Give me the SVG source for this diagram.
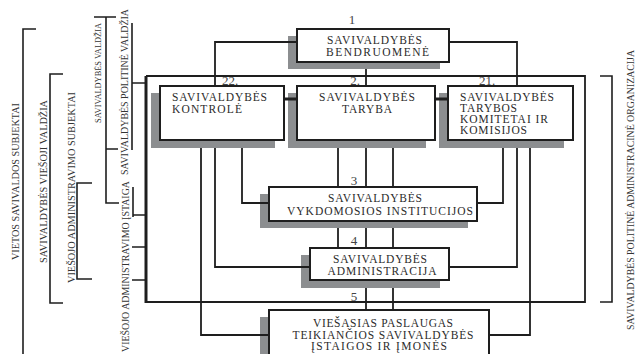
<svg xmlns="http://www.w3.org/2000/svg" width="635" height="354" viewBox="0 0 635 354">
<style>
.bg{fill:#ffffff}
.sh{fill:#8c8e90}
.box{fill:#ffffff;stroke:#1e1e1e;stroke-width:2}
.ln{fill:none;stroke:#1e1e1e;stroke-width:1.8}
.thk{fill:none;stroke:#1e1e1e;stroke-width:3}
.br{fill:none;stroke:#1e1e1e;stroke-width:1.6}
.t{font-family:"Liberation Serif","Times New Roman",serif;font-size:11.5px;fill:#2b2b2b}
.n{font-family:"Liberation Serif","Times New Roman",serif;font-size:13px;fill:#444444;text-anchor:middle}
.v{font-family:"Liberation Serif","Times New Roman",serif;font-size:10px;fill:#333333;text-anchor:middle}
.m{text-anchor:middle}
</style>
<rect class="bg" x="0" y="0" width="635" height="354"/>

<g id="shadows">
<rect class="sh" x="288" y="36" width="152" height="33"/>
<rect class="sh" x="151" y="93" width="124" height="55"/>
<rect class="sh" x="288" y="93" width="138" height="55"/>
<rect class="sh" x="439" y="93" width="125" height="55"/>
<rect class="sh" x="260" y="194" width="208" height="34"/>
<rect class="sh" x="301" y="255" width="139" height="33"/>
<rect class="sh" x="260" y="317" width="220" height="60"/>
</g>

<g id="connectors">
<path class="ln" d="M215,86 V42 H297"/>
<path class="ln" d="M449,42 H517 V86"/>
<path class="ln" d="M366,69 V86"/>
<path class="thk" d="M284,99 H297"/>
<path class="thk" d="M435,99 H448"/>
<path class="ln" d="M201,148 V335 H269"/>
<path class="ln" d="M215,148 V267 H310"/>
<path class="ln" d="M242,148 V203 H269"/>
<path class="ln" d="M338,148 V187"/>
<path class="ln" d="M366,148 V187"/>
<path class="ln" d="M393,148 V187"/>
<path class="ln" d="M338,228 V248"/>
<path class="ln" d="M366,228 V248"/>
<path class="ln" d="M393,228 V248"/>
<path class="ln" d="M366,288 V310"/>
<path class="ln" d="M393,288 V310"/>
<path class="ln" d="M503,148 V203 H477"/>
<path class="ln" d="M517,148 V267 H449"/>
<path class="ln" d="M530,148 V335 H489"/>
<path class="ln" d="M146,76 H585 V302 H146"/>
<path class="thk" d="M146,76 V303"/>
<path class="br" d="M36,29 H23 V360"/>
<path class="br" d="M63,74 H50 V303 H63"/>
<path class="br" d="M92,183 H77 V279 H92"/>
<path class="br" d="M94,17 H116 M106,17 V203 H119 M106,149 H118"/>
<path class="br" d="M132,23 V150 M132,83 H146"/>
<path class="br" d="M133,187 V217 M133,215 H146"/>
<path class="br" d="M132,247 H146 M132,280 H146"/>
<path class="br" d="M600,76 H612 V302 H600"/>
</g>

<g id="n1">
<rect class="box" x="297" y="29" width="152" height="33"/>
<text class="t m" x="374.5" y="43.5" textLength="95" lengthAdjust="spacing">SAVIVALDYBĖS</text>
<text class="t m" x="377.5" y="55.5" textLength="103" lengthAdjust="spacing">BENDRUOMENĖ</text>
<text class="n" x="352" y="24">1</text>
</g>

<g id="n22">
<rect class="box" x="160" y="86" width="124" height="54"/>
<text class="t" x="172" y="100.5" textLength="95" lengthAdjust="spacing">SAVIVALDYBĖS</text>
<text class="t" x="172" y="112.5" textLength="70" lengthAdjust="spacing">KONTROLĖ</text>
<text class="n" x="230" y="85">22.</text>
</g>

<g id="n2">
<rect class="box" x="297" y="86" width="138" height="54"/>
<text class="t m" x="367" y="100.5" textLength="96" lengthAdjust="spacing">SAVIVALDYBĖS</text>
<text class="t m" x="367" y="112.5" textLength="50" lengthAdjust="spacing">TARYBA</text>
<text class="n" x="355" y="85">2.</text>
</g>

<g id="n21">
<rect class="box" x="448" y="86" width="125" height="54"/>
<text class="t" x="460" y="100.5" textLength="94" lengthAdjust="spacing">SAVIVALDYBĖS</text>
<text class="t" x="460" y="111.5" textLength="57" lengthAdjust="spacing">TARYBOS</text>
<text class="t" x="460" y="122.5" textLength="88" lengthAdjust="spacing">KOMITETAI IR</text>
<text class="t" x="460" y="133.5" textLength="67" lengthAdjust="spacing">KOMISIJOS</text>
<text class="n" x="487" y="85">21.</text>
</g>

<g id="n3">
<rect class="box" x="269" y="187" width="208" height="34"/>
<text class="t m" x="375" y="201.5" textLength="94" lengthAdjust="spacing">SAVIVALDYBĖS</text>
<text class="t m" x="380" y="214.5" textLength="186" lengthAdjust="spacing">VYKDOMOSIOS INSTITUCIJOS</text>
<text class="n" x="354" y="185">3</text>
</g>

<g id="n4">
<rect class="box" x="310" y="248" width="139" height="32"/>
<text class="t m" x="380" y="262.5" textLength="94" lengthAdjust="spacing">SAVIVALDYBĖS</text>
<text class="t m" x="382" y="274.5" textLength="109" lengthAdjust="spacing">ADMINISTRACIJA</text>
<text class="n" x="354" y="245">4</text>
</g>

<g id="n5">
<rect class="box" x="269" y="310" width="220" height="60"/>
<text class="t m" x="383" y="326.5" textLength="140" lengthAdjust="spacing">VIEŠASIAS PASLAUGAS</text>
<text class="t m" x="383" y="338.5" textLength="181" lengthAdjust="spacing">TEIKIANČIOS SAVIVALDYBĖS</text>
<text class="t m" x="379" y="349.5" textLength="136" lengthAdjust="spacing">ĮSTAIGOS IR ĮMONĖS</text>
<text class="n" x="354" y="301">5</text>
</g>

<g id="labels">
<text class="v" transform="translate(19,181.5) rotate(-90)" textLength="157" lengthAdjust="spacingAndGlyphs">VIETOS SAVIVALDOS SUBJEKTAI</text>
<text class="v" transform="translate(47,181.5) rotate(-90)" textLength="163" lengthAdjust="spacingAndGlyphs">SAVIVALDYBĖS VIEŠOJI VALDŽIA</text>
<text class="v" transform="translate(74.5,187.5) rotate(-90)" textLength="191" lengthAdjust="spacingAndGlyphs">VIEŠOJO ADMINISTRAVIMO SUBJEKTAI</text>
<text class="v" style="font-size:9px" transform="translate(100.5,73) rotate(-90)" textLength="100" lengthAdjust="spacingAndGlyphs">SAVIVALDYBĖS VALDŽIA</text>
<text class="v" transform="translate(128,92) rotate(-90)" textLength="166" lengthAdjust="spacingAndGlyphs">SAVIVALDYBĖS POLITINĖ VALDŽIA</text>
<text class="v" transform="translate(129,266.5) rotate(-90)" textLength="171" lengthAdjust="spacingAndGlyphs">VIEŠOJO ADMINISTRAVIMO ĮSTAIGA</text>
<text class="v" transform="translate(633.5,190) rotate(-90)" textLength="280" lengthAdjust="spacingAndGlyphs">SAVIVALDYBĖS POLITINĖ ADMINISTRACINĖ ORGANIZACIJA</text>
</g>
</svg>
